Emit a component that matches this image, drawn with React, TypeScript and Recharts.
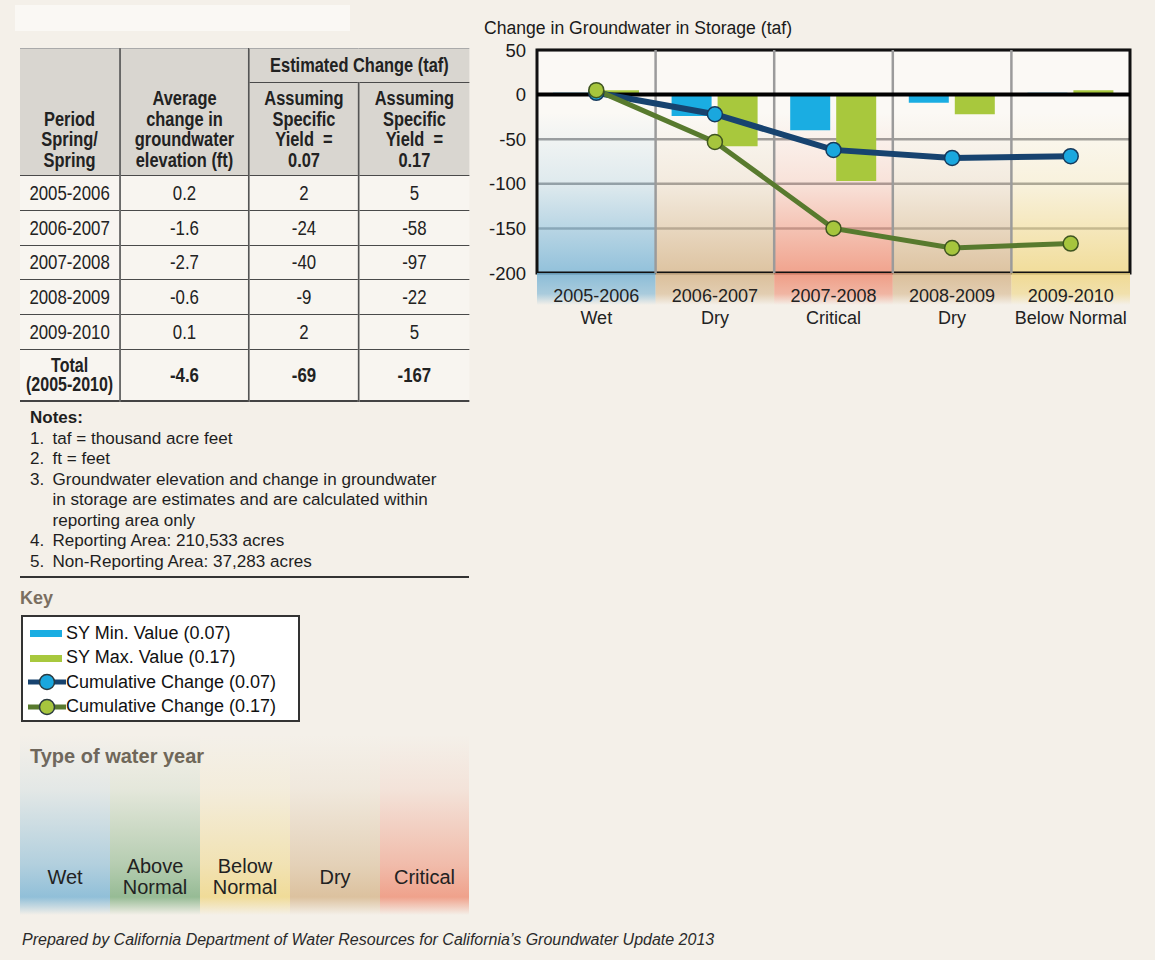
import React from "react";
import {
  ComposedChart,
  Bar,
  Line,
  XAxis,
  YAxis,
  CartesianGrid,
  ReferenceArea,
  ReferenceLine,
  Legend,
} from "recharts";

// chart + table values
const periods = ["2005-2006", "2006-2007", "2007-2008", "2008-2009", "2009-2010"];
const periodTypes = ["Wet", "Dry", "Critical", "Dry", "Below Normal"];
const elevationChangeFt = ["0.2", "-1.6", "-2.7", "-0.6", "0.1"];
const changeSy07 = [2, -24, -40, -9, 2];
const changeSy17 = [5, -58, -97, -22, 5];
const cumulativeSy07 = [2, -22, -62, -71, -69];
const cumulativeSy17 = [5, -53, -150, -172, -167];
const totalRow = ["-4.6", "-69", "-167"];
const yTicks = [-200, -150, -100, -50, 0, 50];
const waterYearTypes = ["Wet", "Above Normal", "Below Normal", "Dry", "Critical"];
const notes = [
  ["taf = thousand acre feet"],
  ["ft = feet"],
  [
    "Groundwater elevation and change in groundwater",
    "in storage are estimates and are calculated within",
    "reporting area only",
  ],
  ["Reporting Area: 210,533 acres"],
  ["Non-Reporting Area: 37,283 acres"],
];
const legendOrder = ["sy07", "sy17", "cum07", "cum17"];

const typeColors: Record<string, string> = {
  Wet: "#78b3d4",
  "Above Normal": "#7fae80",
  "Below Normal": "#efd684",
  Dry: "#d6b68c",
  Critical: "#ee8e74",
};

const SANS = "'Liberation Sans', Arial, Helvetica, sans-serif";
// no narrow face installed: the table is squeezed horizontally instead
const SQUEEZE = 0.82;

const BLUE_BAR = "#1aade2";
const GREEN_BAR = "#a8c83d";
const BLUE_LINE = "#17436f";
const BLUE_DOT = "#1aa7de";
const GREEN_LINE = "#587a2e";
const GREEN_DOT = "#a6c53d";

const seriesSwatch: Record<string, { kind: "bar" | "line"; dot?: string }> = {
  sy07: { kind: "bar" },
  sy17: { kind: "bar" },
  cum07: { kind: "line", dot: BLUE_DOT },
  cum17: { kind: "line", dot: GREEN_DOT },
};

const slug = (s: string) => s.replace(/\s+/g, "-").toLowerCase();

const chartData = periods.map((period, i) => ({
  period,
  type: periodTypes[i],
  sy07: changeSy07[i],
  sy17: changeSy17[i],
  cum07: cumulativeSy07[i],
  cum17: cumulativeSy17[i],
}));

const PeriodTick = (props: any) => {
  const { x, y, payload, index, width, visibleTicksCount } = props;
  const band = payload && payload.offset ? payload.offset * 2 : width / visibleTicksCount;
  const type = periodTypes[index];
  return (
    <g>
      <rect x={x - band / 2} y={y} width={band} height={32} fill={`url(#band-${slug(type)})`} />
      <text x={x} y={y + 29} textAnchor="middle" fontSize={18} fontFamily={SANS} fill="#222">
        {payload.value}
      </text>
      <text x={x} y={y + 51} textAnchor="middle" fontSize={18} fontFamily={SANS} fill="#222">
        {type}
      </text>
    </g>
  );
};

const KeyBox = ({ payload }: any) => {
  const items = [...(payload || [])].sort(
    (a: any, b: any) => legendOrder.indexOf(a.dataKey) - legendOrder.indexOf(b.dataKey)
  );
  return (
    <div
      style={{
        boxSizing: "border-box",
        width: 279,
        height: 107,
        border: "2px solid #333",
        background: "#fff",
        padding: "4px 0 0 5px",
        fontFamily: SANS,
        fontSize: 18,
        color: "#111",
      }}
    >
      {items.map((entry: any) => {
        const sw = seriesSwatch[entry.dataKey] || { kind: "bar" };
        return (
          <div key={entry.dataKey} style={{ display: "flex", alignItems: "center", height: 24.5 }}>
            <svg width={38} height={24} style={{ flex: "none" }}>
              {sw.kind === "bar" ? (
                <rect x={2} y={9} width={32} height={7} fill={entry.color} />
              ) : (
                <g>
                  <line x1={0} y1={12} x2={38} y2={12} stroke={entry.color} strokeWidth={5} />
                  <circle cx={19} cy={12} r={7.5} fill={sw.dot} stroke="#2a3a40" strokeWidth={1.5} />
                </g>
              )}
            </svg>
            <span style={{ whiteSpace: "nowrap" }}>{entry.value}</span>
          </div>
        );
      })}
    </div>
  );
};

const cell: React.CSSProperties = {
  borderTop: "1.5px solid #4a4a4a",
  borderLeft: "2.4px solid #555",
  textAlign: "center",
  padding: 0,
  whiteSpace: "nowrap",
};

const GroundwaterChart = () => (
  <div style={{ position: "absolute", left: 0, top: 0, width: 1155, height: 960 }}>
    <ComposedChart
      width={1155}
      height={960}
      data={chartData}
      margin={{ top: 50, right: 25, left: 477, bottom: 637 }}
      barCategoryGap={16}
      barGap={6}
    >
      <defs>
        {Object.keys(typeColors).map((t) => (
          <linearGradient key={t} id={`fade-${slug(t)}`} x1="0" y1="0" x2="0" y2="1">
            <stop offset="0%" stopColor={typeColors[t]} stopOpacity={0} />
            <stop offset="45%" stopColor={typeColors[t]} stopOpacity={0.22} />
            <stop offset="100%" stopColor={typeColors[t]} stopOpacity={0.8} />
          </linearGradient>
        ))}
        {Object.keys(typeColors).map((t) => (
          <linearGradient key={t} id={`band-${slug(t)}`} x1="0" y1="0" x2="0" y2="1">
            <stop offset="0%" stopColor={typeColors[t]} stopOpacity={0.85} />
            <stop offset="65%" stopColor={typeColors[t]} stopOpacity={0.6} />
            <stop offset="100%" stopColor={typeColors[t]} stopOpacity={0} />
          </linearGradient>
        ))}
      </defs>
      <CartesianGrid vertical={false} stroke="#9b9b9b" strokeWidth={2.5} fill="#fbf9f5" />
      {periods.map((p, i) => (
        <ReferenceArea
          key={p}
          x1={p}
          x2={p}
          y1={-200}
          y2={-20}
          fill={`url(#fade-${slug(periodTypes[i])})`}
          fillOpacity={1}
          stroke="none"
        />
      ))}
      {periods.slice(1).map((p) => (
        <ReferenceLine key={p} x={p} position="start" stroke="#9b9b9b" strokeWidth={2.5} />
      ))}
      <XAxis
        dataKey="period"
        height={50}
        axisLine={false}
        tickLine={false}
        tickSize={0}
        tickMargin={0}
        interval={0}
        tick={<PeriodTick />}
      />
      <YAxis
        width={60}
        domain={[-200, 50]}
        ticks={yTicks}
        axisLine={false}
        tickLine={false}
        tickSize={0}
        tickMargin={11}
        tick={{ fontSize: 18.5, fill: "#1a1a1a", fontFamily: SANS }}
      />
      <Bar dataKey="sy07" name="SY Min. Value (0.07)" fill={BLUE_BAR} isAnimationActive={false} />
      <Bar dataKey="sy17" name="SY Max. Value (0.17)" fill={GREEN_BAR} isAnimationActive={false} />
      <ReferenceLine y={0} stroke="#000" strokeWidth={4} />
      <ReferenceArea
        x1={periods[0]}
        x2={periods[periods.length - 1]}
        y1={-200}
        y2={50}
        fill="none"
        fillOpacity={0}
        stroke="#111"
        strokeWidth={3}
      />
      <Line
        type="linear"
        dataKey="cum07"
        name="Cumulative Change (0.07)"
        stroke={BLUE_LINE}
        strokeWidth={6}
        dot={{ r: 7.5, fill: BLUE_DOT, stroke: "#163a5c", strokeWidth: 1.5 }}
        activeDot={false}
        isAnimationActive={false}
      />
      <Line
        type="linear"
        dataKey="cum17"
        name="Cumulative Change (0.17)"
        stroke={GREEN_LINE}
        strokeWidth={5}
        dot={{ r: 7.5, fill: GREEN_DOT, stroke: "#3f5520", strokeWidth: 1.5 }}
        activeDot={false}
        isAnimationActive={false}
      />
      <Legend
        layout="vertical"
        align="center"
        verticalAlign="middle"
        wrapperStyle={{ left: 21, top: 615, width: 279, height: 107 }}
        content={(props: any) => <KeyBox payload={props.payload} />}
      />
    </ComposedChart>
  </div>
);

const colWidths = [100, 129, 110, 110].map((w) => w / SQUEEZE);

const DataTable = () => (
  <div
    style={{
      position: "absolute",
      left: 20,
      top: 48,
      transform: `scaleX(${SQUEEZE})`,
      transformOrigin: "0 0",
    }}
  >
    <table
      style={{
        width: 449 / SQUEEZE,
        borderCollapse: "collapse",
        tableLayout: "fixed",
        fontFamily: SANS,
        fontSize: 20.5,
        color: "#222",
        borderBottom: "2px solid #444",
      }}
    >
      <colgroup>
        {colWidths.map((w, i) => (
          <col key={i} style={{ width: w }} />
        ))}
      </colgroup>
      <thead style={{ background: "#d9d6d0", lineHeight: "20.5px", fontWeight: "bold", fontSize: 20 }}>
        <tr style={{ height: 34 }}>
          <th
            rowSpan={2}
            style={{ ...cell, borderLeft: "none", borderTop: "1px solid #aaa", verticalAlign: "bottom", paddingBottom: 5 }}
          >
            Period
            <br />
            Spring/
            <br />
            Spring
          </th>
          <th rowSpan={2} style={{ ...cell, borderTop: "1px solid #aaa", verticalAlign: "bottom", paddingBottom: 5 }}>
            Average
            <br />
            change in
            <br />
            groundwater
            <br />
            elevation (ft)
          </th>
          <th colSpan={2} style={{ ...cell, borderTop: "1px solid #aaa" }}>
            Estimated Change (taf)
          </th>
        </tr>
        <tr style={{ height: 93 }}>
          {["0.07", "0.17"].map((sy) => (
            <th key={sy} style={{ ...cell, verticalAlign: "bottom", paddingBottom: 5 }}>
              Assuming
              <br />
              Specific
              <br />
              Yield&nbsp; =
              <br />
              {sy}
            </th>
          ))}
        </tr>
      </thead>
      <tbody style={{ background: "#f8f5f0" }}>
        {periods.map((p, i) => (
          <tr key={p} style={{ height: 34.8 }}>
            <td style={{ ...cell, borderLeft: "none" }}>{p}</td>
            <td style={cell}>{elevationChangeFt[i]}</td>
            <td style={cell}>{changeSy07[i]}</td>
            <td style={cell}>{changeSy17[i]}</td>
          </tr>
        ))}
        <tr style={{ height: 52, fontWeight: "bold" }}>
          <td style={{ ...cell, borderLeft: "none", lineHeight: "19.5px", fontSize: 19.5 }}>
            Total
            <br />
            (2005-2010)
          </td>
          {totalRow.map((v, i) => (
            <td key={i} style={cell}>
              {v}
            </td>
          ))}
        </tr>
      </tbody>
    </table>
  </div>
);

const Notes = () => (
  <div
    style={{
      position: "absolute",
      left: 30,
      top: 408,
      fontFamily: SANS,
      fontSize: 17.1,
      lineHeight: "20.5px",
      color: "#1e1e1e",
    }}
  >
    <div style={{ fontWeight: "bold", fontSize: 17 }}>Notes:</div>
    {notes.map((lines, i) => (
      <div key={i} style={{ display: "flex" }}>
        <span style={{ width: 22.5, flex: "none" }}>{i + 1}.</span>
        <span>
          {lines.map((l, j) => (
            <div key={j} style={{ whiteSpace: "nowrap" }}>
              {l}
            </div>
          ))}
        </span>
      </div>
    ))}
  </div>
);

const WaterYearKey = () => (
  <div>
    <div
      style={{
        position: "absolute",
        left: 30,
        top: 745,
        fontFamily: SANS,
        fontWeight: "bold",
        fontSize: 20,
        lineHeight: "22px",
        color: "#6e6356",
      }}
    >
      Type of water year
    </div>
    {waterYearTypes.map((t, i) => {
      const words = t.split(" ");
      return (
        <div
          key={t}
          style={{
            position: "absolute",
            left: 20 + i * 90,
            top: 735,
            width: i === 4 ? 89 : 90,
            height: 180,
            background: `linear-gradient(to bottom, ${typeColors[t]}00 0%, ${typeColors[t]}22 30%, ${typeColors[t]}88 72%, ${typeColors[t]}cc 90%, ${typeColors[t]}00 100%)`,
          }}
        >
          <div
            style={{
              position: "absolute",
              left: 0,
              width: "100%",
              top: 142 - words.length * 10.5,
              textAlign: "center",
              fontFamily: SANS,
              fontSize: 20,
              lineHeight: "21px",
              color: "#222",
            }}
          >
            {words.map((w) => (
              <div key={w}>{w}</div>
            ))}
          </div>
        </div>
      );
    })}
  </div>
);

export default function App() {
  return (
    <div
      style={{
        position: "absolute",
        left: 0,
        top: 0,
        width: 1155,
        height: 960,
        background: "#f4f0e9",
        overflow: "hidden",
      }}
    >
      <div style={{ position: "absolute", left: 15, top: 5, width: 335, height: 26, background: "#faf8f4" }} />
      <WaterYearKey />
      <GroundwaterChart />
      <div
        style={{
          position: "absolute",
          left: 484,
          top: 18,
          fontFamily: SANS,
          fontSize: 17.6,
          lineHeight: "20px",
          color: "#1a1a1a",
        }}
      >
        Change in Groundwater in Storage (taf)
      </div>
      <DataTable />
      <Notes />
      <div style={{ position: "absolute", left: 20, top: 576, width: 449, height: 2, background: "#333" }} />
      <div
        style={{
          position: "absolute",
          left: 20,
          top: 587,
          fontFamily: SANS,
          fontWeight: "bold",
          fontSize: 18,
          lineHeight: "22px",
          color: "#7a6e60",
        }}
      >
        Key
      </div>
      <div
        style={{
          position: "absolute",
          left: 22,
          top: 931,
          fontFamily: SANS,
          fontStyle: "italic",
          fontSize: 16,
          lineHeight: "18px",
          color: "#2a2a2a",
        }}
      >
        Prepared by California Department of Water Resources for California’s Groundwater Update 2013
      </div>
    </div>
  );
}
